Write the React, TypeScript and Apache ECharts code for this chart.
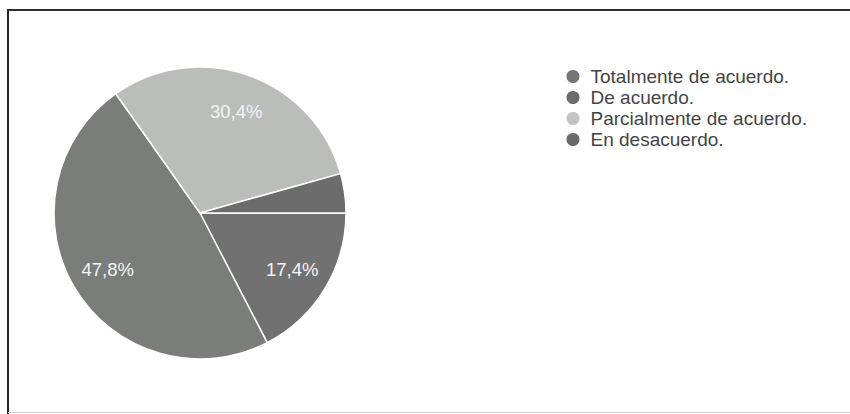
import React, { useEffect, useRef } from "react";
import * as echarts from "echarts";

const categories = [
  "Totalmente de acuerdo.",
  "De acuerdo.",
  "Parcialmente de acuerdo.",
  "En desacuerdo.",
];
const counts = [4, 11, 7, 1];
const colors = ["#717171", "#7a7d7a", "#bbbdbb", "#6c6c6c"];
const legendColors = ["#767676", "#6c6c6c", "#c4c4c4", "#6a6a6a"];

export default function App() {
  const ref = useRef<HTMLDivElement>(null);
  useEffect(() => {
    if (!ref.current) return;
    const chart = echarts.init(ref.current, null, { renderer: "svg" });
    const data = categories.map((name, i) => ({
      name,
      value: counts[i],
      itemStyle: { color: colors[i] },
    }));
    const fmt = (p: any) =>
      p.percent >= 5 ? p.percent.toFixed(1).replace(".", ",") + "%" : "";
    chart.setOption({
      animation: false,
      backgroundColor: "#ffffff",
      legend: {
        orient: "vertical",
        left: 564.5,
        top: 67,
        padding: 0,
        icon: "circle",
        itemWidth: 15,
        itemHeight: 15,
        itemGap: 2,
        selectedMode: false,
        data: categories.map((name, i) => ({
          name,
          itemStyle: { color: legendColors[i] },
        })),
        textStyle: {
          fontFamily: "Liberation Sans, Arial, sans-serif",
          fontSize: 19,
          lineHeight: 17,
          color: "#444444",
          padding: [0, 0, 0, 5],
        },
      },
      graphic: [
        { type: "line", shape: { x1: 7, y1: 10, x2: 850, y2: 10 }, style: { stroke: "#2e2e2e", lineWidth: 2 } },
        { type: "line", shape: { x1: 8, y1: 10, x2: 8, y2: 414 }, style: { stroke: "#222", lineWidth: 2 } },
        { type: "line", shape: { x1: 8, y1: 412.5, x2: 850, y2: 412.5 }, style: { stroke: "#d4d4d4", lineWidth: 1 } },
      ],
      series: [
        {
          type: "pie",
          center: [200, 213],
          radius: [0, 146],
          startAngle: 0,
          clockwise: true,
          percentPrecision: 1,
          silent: true,
          data,
          label: { show: false },
          labelLine: { show: false },
          itemStyle: { borderColor: "#ffffff", borderWidth: 1.5 },
        },
        {
          type: "pie",
          center: [200, 213],
          radius: [64, 146],
          startAngle: 0,
          clockwise: true,
          percentPrecision: 1,
          silent: true,
          data: categories.map((name, i) => ({ name, value: counts[i] })),
          itemStyle: { color: "rgba(0,0,0,0)" },
          label: {
            show: true,
            position: "inside",
            formatter: fmt,
            color: "#f4f4f4",
            fontFamily: "Liberation Sans, Arial, sans-serif",
            fontSize: 18.5,
          },
          labelLine: { show: false },
        },
      ],
    });
    return () => chart.dispose();
  }, []);
  return (
    <div
      ref={ref}
      style={{ position: "fixed", left: 0, top: 0, width: 850, height: 414 }}
    />
  );
}
